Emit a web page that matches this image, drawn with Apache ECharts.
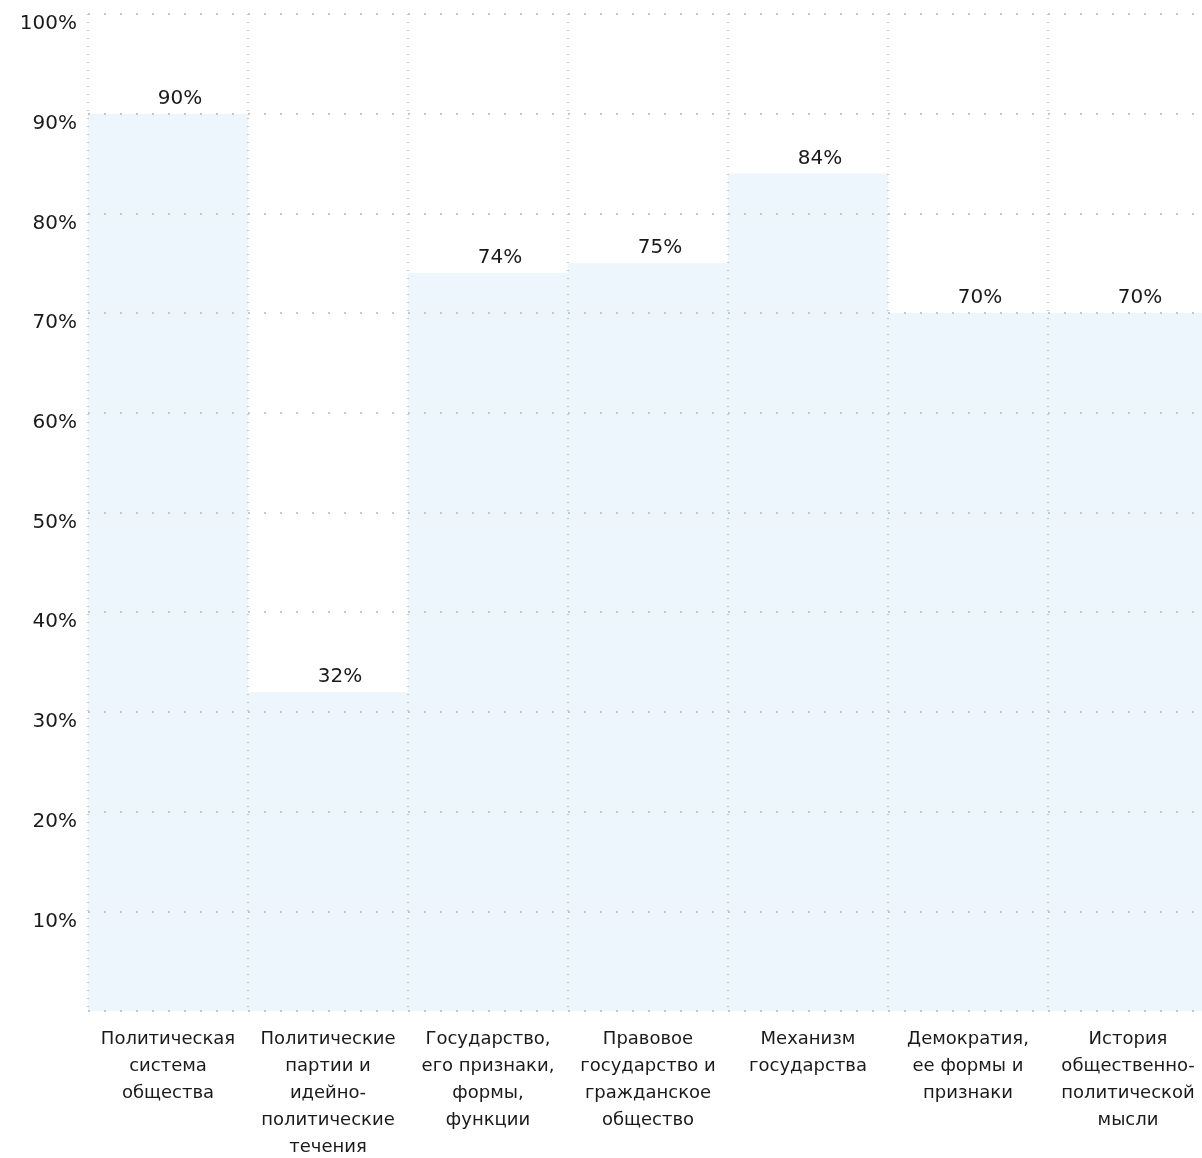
<!DOCTYPE html>
<html>
<head>
<meta charset="utf-8">
<script src="https://cdn.jsdelivr.net/npm/echarts@6/dist/echarts.min.js"></script>
<style>
html,body{margin:0;padding:0;background:#fff;}
#chart{width:1202px;height:1158px;}
</style>
</head>
<body>
<div id="chart"></div>
<script>
var categories = [
  "Политическая\nсистема\nобщества",
  "Политические\nпартии и\nидейно-\nполитические\nтечения",
  "Государство,\nего признаки,\nформы,\nфункции",
  "Правовое\nгосударство и\nгражданское\nобщество",
  "Механизм\nгосударства",
  "Демократия,\nее формы и\nпризнаки",
  "История\nобщественно-\nполитической\nмысли"
];
var values = [90, 32, 74, 75, 84, 70, 70];
var yMin = 0, yMax = 100, yStep = 10;

var FONT = "DejaVu Sans";
var chart = echarts.init(document.getElementById('chart'), null, {renderer: 'canvas'});
chart.setOption({
  animation: false,
  backgroundColor: '#ffffff',
  grid: {left: 88, top: 14, width: 1120, height: 997, containLabel: false, outerBoundsMode: 'none'},
  xAxis: {
    type: 'category',
    data: categories,
    boundaryGap: true,
    z: 5,
    axisLine: {show: false},
    axisTick: {show: false},
    axisLabel: {
      interval: 0,
      margin: 15,
      color: '#1a1a1a',
      fontFamily: FONT,
      fontSize: 18,
      lineHeight: 27,
      align: 'center'
    },
    splitLine: {
      show: true,
      interval: 0,
      lineStyle: {color: '#c8c8c8', width: 2, type: [1, 7]}
    }
  },
  yAxis: {
    type: 'value',
    min: yMin, max: yMax, interval: yStep,
    z: 5,
    axisLine: {show: false},
    axisTick: {show: false},
    axisLabel: {
      margin: 11,
      color: '#1a1a1a',
      fontFamily: FONT,
      fontSize: 20,
      verticalAlign: 'top',
      formatter: function (v) { return v === 0 ? '' : v + '%'; }
    },
    splitLine: {
      show: true,
      lineStyle: {color: '#c8c8c8', width: 2, type: [2, 14]}
    }
  },
  series: [{
    type: 'bar',
    data: values,
    barCategoryGap: '0%',
    barGap: '0%',
    itemStyle: {color: '#edf6fd'},
    z: 1,
    label: {
      show: true,
      position: 'top',
      distance: 5,
      offset: [12, 0],
      color: '#1a1a1a',
      fontFamily: FONT,
      fontSize: 20,
      formatter: '{c}%'
    }
  }]
});
</script>
</body>
</html>
